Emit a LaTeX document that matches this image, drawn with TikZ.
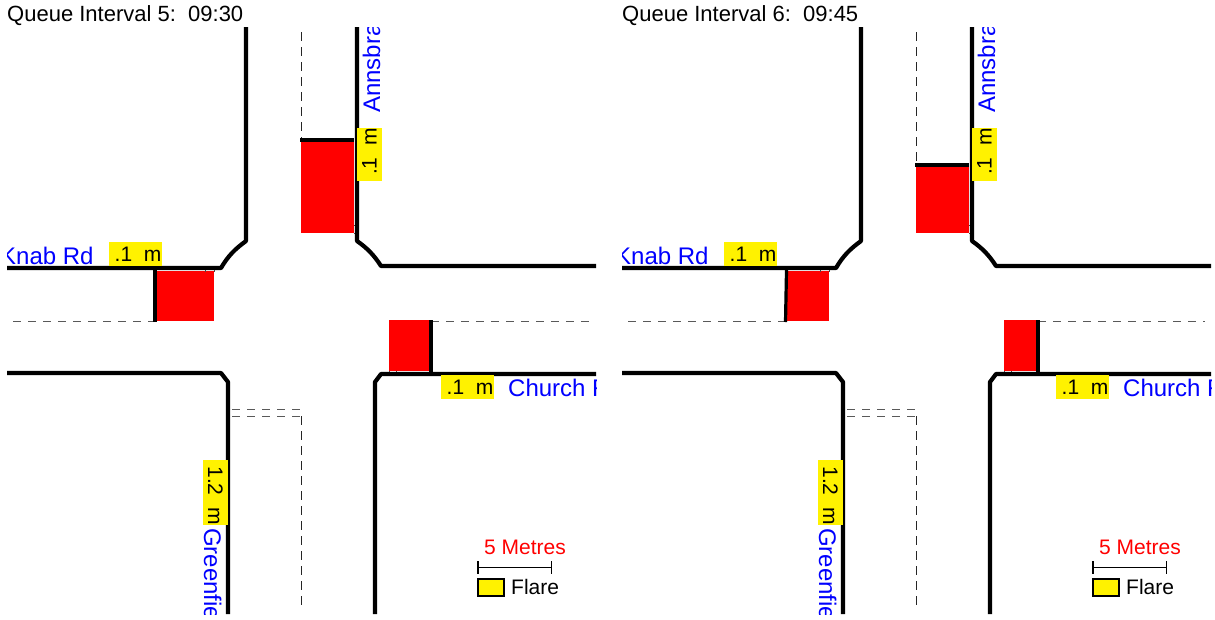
\documentclass[tikz,border=0pt]{standalone}
\usepackage{fontspec}
\setmainfont{Liberation Sans}
\definecolor{roadblue}{RGB}{0,0,255}
\tikzset{
 x=1pt,y=-1pt,
 kerb/.style={line width=4.2pt,line join=round,black},
 lane/.style={line width=1pt,dash pattern=on 8pt off 7pt,black!65},
 lanev/.style={line width=1pt,dash pattern=on 9pt off 6pt,black!85},
 stopline/.style={line width=3.2pt,black},
 queue/.style={fill=red,draw=none},
 tick/.style={line width=.5pt,black!70},
 flarebox/.style={fill=yellow,draw=none,inner sep=0pt,font=\fontsize{21}{24}\selectfont,text=black,anchor=center},
 road/.style={text=roadblue,inner sep=0pt,font=\fontsize{24}{26}\selectfont},
 plain/.style={inner sep=0pt,font=\fontsize{21}{24}\selectfont},
}
\newcommand{\junction}[8]{%
 % #1 shift, #2 title, #3 top queue y, #4 left queue x0, #5 left queue x1, #6 left stop x lower, #7 right queue x0, #8 right stop x
 \begin{scope}[xshift=#1pt]
  \node[plain,anchor=base west,font=\fontsize{22}{24}\selectfont] (title#1) at (7,21.5) {#2};
  \begin{scope}
   \clip (7,27) rectangle (596,614);
   % queues
   \fill[queue] (301,#3) rectangle (354,233);
   \fill[queue] (#4,271) rectangle (#5,321);
   \fill[queue] (#7,320) rectangle (#8,371);
   % small flare ticks
   \draw[tick] (#5-9,269) -- (#5-9,272) (#5,269) -- (#5,272);
   \draw[tick] (354,225) -- (357,225) (354,233) -- (357,233);
   \draw[tick] (#7,371) -- (#7,373) (#7+7,371) -- (#7+7,373);
   % lane dashes
   \draw[lane] (13,321) -- (#4,321);
   \draw[lane] (#8,321) -- (590,321);
   \draw[lane] (232,409) -- (302,409);
   \draw[lane] (232,416) -- (302,416);
   \draw[lanev] (301.5,32) -- (301.5,#3);
   \draw[lanev] (301.5,416) -- (301.5,608);
   % stop lines
   \draw[stopline] (300,#3) -- (354,#3);
   \draw[stopline] (#4,270) -- (#6,322);
   \draw[stopline] (#8,320) -- (#8,372);
   % kerbs
   \draw[kerb] (7,268) -- (221,268) .. controls (228,256) and (235,249) .. (246,241) -- (246,27);
   \draw[kerb] (357,27) -- (357,241) .. controls (367,248) and (374,255) .. (381,266) -- (596,266);
   \draw[kerb] (7,373) -- (221,373) -- (228,382) -- (228,614);
   \draw[kerb] (375,614) -- (375,382) -- (381,374) -- (596,374);
   % flare labels
   \node[flarebox,minimum width=53pt,minimum height=24pt] (fl#1) at (135.5,254) {\hspace{5pt}.1\ \ m};
   \node[flarebox,minimum width=53pt,minimum height=24pt] (fr#1) at (467.5,387) {\hspace{5pt}.1\ \ m};
   \node[flarebox,minimum width=53pt,minimum height=25pt,rotate=90] (ft#1) at (369.5,154.5) {\hspace{6pt}.1\ \ m};
   \node[flarebox,minimum width=65pt,minimum height=25pt,rotate=-90] (fb#1) at (215.5,492.5) {\hspace{6pt}1.2\ \ m};
   % road names
   \node[road,anchor=base west] (knab#1) at (0,264) {Knab Rd};
   \node[road,anchor=base west] (church#1) at (508,396) {Church R};
   \node[road,anchor=base west,rotate=90] (ann#1) at (380,113) {Annsbra};
   \node[road,anchor=base west,rotate=-90] (green#1) at (204,528) {Greenfie};
  \end{scope}
  % scale and legend
  \node[plain,text=red] (metres#1) at (525,547) {5 Metres};
  \coordinate (sa#1) at (478,567.5);
  \coordinate (sb#1) at (551.5,567.5);
  \draw[line width=1.6pt] (sa#1) -- (sb#1);
  \draw[line width=1.6pt] (478,561) -- (478,574) (551.5,561) -- (551.5,574);
  \node[draw=black,line width=2pt,fill=yellow,minimum width=26pt,minimum height=17pt,inner sep=0pt] (leg#1) at (491.3,587.7) {};
  \node[plain,anchor=base west] (flare#1) at (511,594) {Flare};
 \end{scope}}
\begin{document}
\begin{tikzpicture}
 \useasboundingbox (0,0) rectangle (1215,619);
 \junction{0}{Queue Interval 5:\ \ 09:30}{140}{155}{214}{155}{389}{431}
 \junction{615}{Queue Interval 6:\ \ 09:45}{165}{171.5}{214}{170.5}{389}{423}
\end{tikzpicture}
\end{document}
